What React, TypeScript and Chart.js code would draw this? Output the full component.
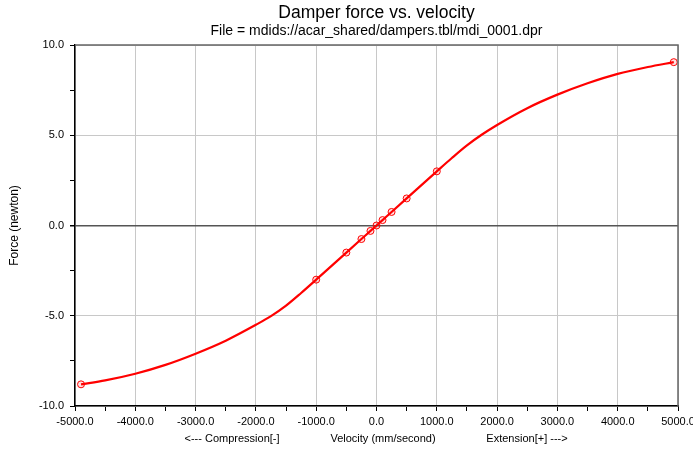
import React, { useEffect, useRef } from "react";
import { Chart, registerables } from "chart.js";

Chart.register(...registerables);

// Smooth curve (velocity mm/s -> force N)
const curveX = [-4900, -4500, -4000, -3500, -3000, -2500, -2000, -1750, -1500, -1250, -1000, -500, -250, -100, 0, 100, 250, 500, 1000, 1250, 1500, 1750, 2000, 2500, 3000, 3500, 4000, 4500, 4930];
const curveY = [-8.8, -8.58, -8.21, -7.72, -7.1, -6.38, -5.5, -5.02, -4.44, -3.74, -3.0, -1.5, -0.75, -0.3, 0, 0.3, 0.75, 1.5, 3.0, 3.74, 4.44, 5.04, 5.57, 6.5, 7.25, 7.88, 8.4, 8.78, 9.05];

// Table points (markers)
const markerX = [-4900, -1000, -500, -250, -100, 0, 100, 250, 500, 1000, 4930];
const markerY = [-8.8, -3.0, -1.5, -0.75, -0.3, 0, 0.3, 0.75, 1.5, 3.0, 9.05];

const titleText = "Damper force vs. velocity";
const subtitleText = "File = mdids://acar_shared/dampers.tbl/mdi_0001.dpr";
const yTitle = "Force (newton)";
const xTitleLeft = "<--- Compression[-]";
const xTitleMid = "Velocity (mm/second)";
const xTitleRight = "Extension[+] --->";

const FONT = '"Liberation Sans", Arial, sans-serif';

const textPlugin = {
  id: "textPlugin",
  afterDraw(chart: any) {
    const ctx = chart.ctx;
    const a = chart.chartArea;
    const cx = (a.left + a.right) / 2;
    ctx.save();
    // frame top/right
    ctx.strokeStyle = "#666";
    ctx.lineWidth = 1.5;
    ctx.beginPath();
    ctx.moveTo(a.left, a.top);
    ctx.lineTo(a.right, a.top);
    ctx.lineTo(a.right, a.bottom);
    ctx.stroke();
    ctx.fillStyle = "#000";
    ctx.textAlign = "center";
    ctx.textBaseline = "middle";
    ctx.font = `17.5px ${FONT}`;
    ctx.fillText(titleText, cx, 13);
    ctx.font = `14px ${FONT}`;
    ctx.fillText(subtitleText, cx, 31);
    ctx.font = `11px ${FONT}`;
    ctx.fillText(xTitleLeft, 232, 439);
    ctx.fillText(xTitleMid, 383, 439);
    ctx.fillText(xTitleRight, 527, 439);
    ctx.translate(15, (a.top + a.bottom) / 2);
    ctx.rotate(-Math.PI / 2);
    ctx.font = `12px ${FONT}`;
    ctx.fillText(yTitle, 0, 0);
    ctx.restore();
  },
};

export default function App() {
  const ref = useRef<HTMLCanvasElement>(null);
  useEffect(() => {
    document.body.style.margin = "0";
    const chart = new Chart(ref.current!, {
      type: "line",
      data: {
        datasets: [
          {
            data: curveX.map((x, i) => ({ x, y: curveY[i] })),
            borderColor: "#ff0000",
            borderWidth: 2.2,
            pointRadius: 0,
            cubicInterpolationMode: "monotone",
            fill: false,
            order: 2,
          },
          {
            data: markerX.map((x, i) => ({ x, y: markerY[i] })),
            showLine: false,
            pointRadius: 3.5,
            pointBorderWidth: 1,
            pointBorderColor: "#ff0000",
            pointBackgroundColor: "rgba(255,0,0,0.12)",
            order: 1,
          },
        ],
      },
      options: {
        responsive: false,
        animation: false,
        events: [],
        layout: { padding: { top: 45, right: 15, left: 0, bottom: 0 } },
        plugins: { legend: { display: false }, tooltip: { enabled: false } },
        scales: {
          x: {
            type: "linear",
            min: -5000,
            max: 5000,
            afterFit: (s: any) => {
              s.height = 44;
              s.paddingRight = 15;
              s.paddingLeft = 0;
            },
            afterBuildTicks: (s: any) => {
              const t = [];
              for (let v = -5000; v <= 5000; v += 500) t.push({ value: v });
              s.ticks = t;
            },
            ticks: {
              autoSkip: false,
              maxRotation: 0,
              padding: 4,
              color: "#000",
              font: { family: FONT, size: 11 },
              callback: (v: any) => (Math.round(v) % 1000 === 0 ? Number(v).toFixed(1) : ""),
            },
            grid: {
              color: (c: any) => (c.tick && Math.round(c.tick.value) % 1000 === 0 ? "#c8c8c8" : "transparent"),
              tickColor: "#000",
              tickLength: 5,
              lineWidth: 1,
            },
            border: { display: true, color: "#000", width: 1.5 },
          },
          y: {
            type: "linear",
            min: -10,
            max: 10,
            afterFit: (s: any) => { s.width = 75; },
            afterBuildTicks: (s: any) => {
              const t = [];
              for (let v = -10; v <= 10; v += 2.5) t.push({ value: v });
              s.ticks = t;
            },
            ticks: {
              autoSkip: false,
              padding: 6,
              color: "#000",
              font: { family: FONT, size: 11 },
              callback: (v: any) => (Math.abs(v % 5) < 1e-9 ? Number(v).toFixed(1) : ""),
            },
            grid: {
              color: (c: any) => {
                if (!c.tick) return "transparent";
                const v = c.tick.value;
                if (v === 0) return "#555";
                return Math.abs(v % 5) < 1e-9 ? "#c8c8c8" : "transparent";
              },
              lineWidth: (c: any) => (c.tick && c.tick.value === 0 ? 1.5 : 1),
              tickColor: "#000",
              tickLength: 5,
            },
            border: { display: true, color: "#000", width: 1.5 },
          },
        },
      },
      plugins: [textPlugin],
    } as any);
    return () => chart.destroy();
  }, []);
  return (
    <div style={{ width: 693, height: 450, background: "#fff" }}>
      <canvas ref={ref} width={693} height={450} style={{ width: 693, height: 450, display: "block" }} />
    </div>
  );
}
